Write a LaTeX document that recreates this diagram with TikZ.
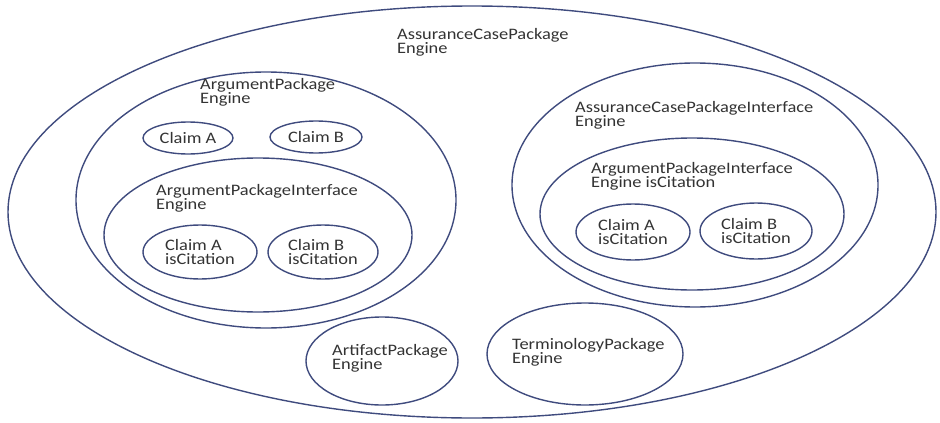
\documentclass[tikz,border=0pt]{standalone}
\usepackage{fontspec}
\setmainfont{Carlito}[FakeStretch=1.15]
\definecolor{rim}{HTML}{3F4B7E}
\definecolor{ink}{HTML}{333333}

\begin{document}
\begin{tikzpicture}[x=1pt, y=-1pt,
    every node/.style={font=\fontsize{16}{14.5}\selectfont, text=ink, align=left, inner sep=0pt},
    pkg/.style={draw=rim, line width=1.4pt}]
    \useasboundingbox (0,0) rectangle (940,423);

    % Gesamtpaket
    \draw[pkg] (472,212) ellipse (464pt and 206pt);
    \node[anchor=north west] (acp) at (397,28) {AssuranceCasePackage\\Engine};

    % Argumentpaket links
    \draw[pkg] (266,200) ellipse (190pt and 128pt);
    \node[anchor=north west] (ap) at (200,78) {ArgumentPackage\\Engine};
    \draw[pkg] (188,138) ellipse (45pt and 16pt);
    \node (ca) at (188,138) {Claim A};
    \draw[pkg] (316,137) ellipse (46pt and 16pt);
    \node (cb) at (316,137) {Claim B};

    \draw[pkg] (258,235) ellipse (154pt and 77pt);
    \node[anchor=north west] (api) at (156,184) {ArgumentPackageInterface\\Engine};
    \draw[pkg] (200,252) ellipse (57pt and 27pt);
    \node (cac) at (200,252) {Claim A\\isCitation};
    \draw[pkg] (323,252) ellipse (55pt and 27pt);
    \node (cbc) at (323,252) {Claim B\\isCitation};

    % Schnittstelle rechts
    \draw[pkg] (695,185) ellipse (183pt and 122pt);
    \node[anchor=north west] (acpi) at (575,101) {AssuranceCasePackageInterface\\Engine};
    \draw[pkg] (692,214) ellipse (152pt and 76pt);
    \node[anchor=north west] (apic) at (591,162) {ArgumentPackageInterface\\Engine isCitation};
    \draw[pkg] (633,232) ellipse (57pt and 28pt);
    \node (rca) at (633,232) {Claim A\\isCitation};
    \draw[pkg] (756,231) ellipse (56pt and 28pt);
    \node (rcb) at (756,231) {Claim B\\isCitation};

    % weitere Pakete
    \draw[pkg] (382,361) ellipse (76pt and 44pt);
    \node[anchor=north west] (art) at (332,344) {ArtifactPackage\\Engine};
    \draw[pkg] (585,354) ellipse (98pt and 51pt);
    \node[anchor=north west] (term) at (512,338) {TerminologyPackage\\Engine};
\end{tikzpicture}
\end{document}
